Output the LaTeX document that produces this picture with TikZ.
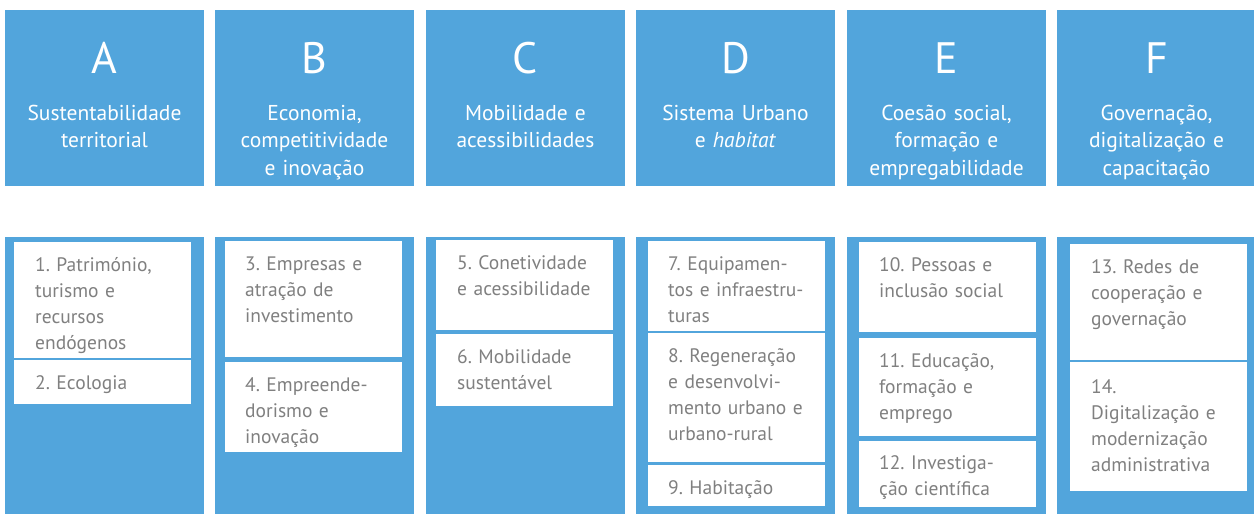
\documentclass[tikz,border=0pt]{standalone}
\usepackage{fontspec}
\setmainfont{PT Sans}
\usetikzlibrary{positioning}
\definecolor{eixo}{RGB}{82,165,220}
\definecolor{cinza}{RGB}{128,128,128}
\tikzset{
  cabec/.style={fill=eixo,minimum width=199pt,minimum height=176pt,anchor=north west,inner sep=0pt},
  painel/.style={fill=eixo,minimum width=199pt,minimum height=277pt,anchor=north west,inner sep=0pt},
  letra/.style={text=white,font=\fontsize{44}{44}\selectfont,anchor=base,inner sep=0pt},
  titulo/.style={text=white,font=\fontsize{21.5}{27.5}\selectfont,text width=198pt,align=center,anchor=base,inner sep=0pt},
  caixa/.style={fill=white,minimum width=177pt,anchor=north west,inner sep=0pt},
  tema/.style={text=cinza,font=\fontsize{19.5}{26}\selectfont,text width=172pt,align=left,anchor=base west,inner sep=0pt}
}
\frenchspacing
\begin{document}
\begin{tikzpicture}[x=1pt,y=-1pt]
\useasboundingbox (0,0) rectangle (1254,514);
\foreach \l/\x/\t in {A/5/{Sustentabilidade\\territorial},
                      B/215/{Economia,\\competitividade\\e inovação},
                      C/426/{Mobilidade e\\acessibilidades},
                      D/636/{Sistema Urbano\\e \textit{habitat}},
                      E/847/{Coesão social,\\formação e\\empregabilidade},
                      F/1057/{Governação,\\digitalização e\\capacitação}}{
  \node[cabec] (h\l) at (\x,10) {};
  \node[painel] (p\l) at (\x,237) {};
  \node[letra] (l\l) at (\x+99.5,73) {\l};
  \node[titulo] (s\l) at (\x+99.5,120) {\t};
}

\node[caixa,minimum height=116pt] (c1) at (14,242) {};
\node[caixa,minimum height=44pt] (c2) at (14,360) {};
\node[tema] (t1) at (35,271.5) {1. Património,\\turismo e\\recursos\\endógenos};
\node[tema] (t2) at (35,389.5) {2. Ecologia};

\node[caixa,minimum height=116pt] (c3) at (225,241) {};
\node[caixa,minimum height=90pt] (c4) at (225,362) {};
\node[tema] (t3) at (245,270.5) {3. Empresas e\\atração de\\investimento};
\node[tema] (t4) at (245,391.5) {4. Empreende-\\dorismo e\\inovação};

\node[caixa,minimum height=90pt] (c5) at (436,240) {};
\node[caixa,minimum height=72pt] (c6) at (436,334) {};
\node[tema] (t5) at (457,269.5) {5. Conetividade\\e acessibilidade};
\node[tema] (t6) at (457,363.5) {6. Mobilidade\\sustentável};

\node[caixa,minimum height=90pt] (c7) at (648,241) {};
\node[caixa,minimum height=129pt] (c8) at (648,333) {};
\node[caixa,minimum height=41pt] (c9) at (648,465) {};
\node[tema] (t7) at (668,270.5) {7. Equipamen-\\tos e infraestru-\\turas};
\node[tema] (t8) at (668,362.5) {8. Regeneração\\e desenvolvi-\\mento urbano e\\urbano-rural};
\node[tema] (t9) at (668,494) {9. Habitação};

\node[caixa,minimum height=90pt] (c10) at (859,242) {};
\node[caixa,minimum height=98pt] (c11) at (859,338) {};
\node[caixa,minimum height=66pt] (c12) at (859,441) {};
\node[tema] (t10) at (879,271) {10. Pessoas e\\inclusão social};
\node[tema] (t11) at (879,367) {11. Educação,\\formação e\\emprego};
\node[tema] (t12) at (879,469) {12. Investiga-\\ção científica};

\node[caixa,minimum height=116pt] (c13) at (1070,244) {};
\node[caixa,minimum height=129pt] (c14) at (1070,362) {};
\node[tema] (t13) at (1091,273) {13. Redes de\\cooperação e\\governação};
\node[tema] (t14) at (1091,393) {14.\\Digitalização e\\modernização\\administrativa};
\end{tikzpicture}
\end{document}
